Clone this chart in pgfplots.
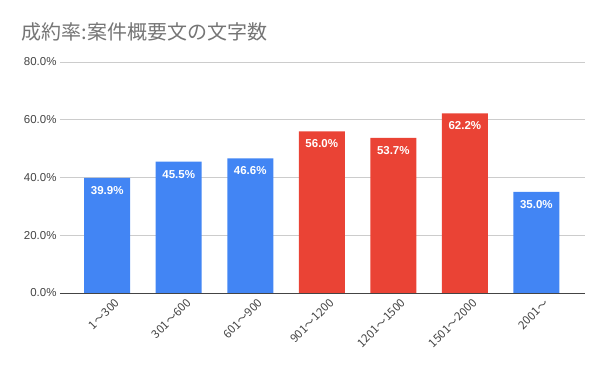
\documentclass[border=0pt]{standalone}
\usepackage{pgfplots}
\pgfplotsset{compat=1.18}
\usepackage{fontspec}
\setmainfont{Liberation Sans}
\newfontfamily\cjk{Noto Sans CJK JP}
\definecolor{gblue}{HTML}{4285F4}
\definecolor{gred}{HTML}{EA4335}
\definecolor{gridc}{HTML}{CCCCCC}
\definecolor{tickc}{HTML}{444444}
\definecolor{titlec}{HTML}{757575}
\begin{document}
\begin{tikzpicture}
\path[use as bounding box] (0,0) rectangle (600bp,-371bp);
\node[anchor=west, font=\cjk\fontsize{20bp}{22bp}\selectfont, text=titlec] at (18bp,-32bp) {成約率:案件概要文の文字数};
\begin{axis}[
  at={(60bp,-293bp)}, anchor=south west,
  scale only axis, width=525bp, height=231bp,
  ymin=0, ymax=80, ytick={0,20,40,60,80},
  xmin=-0.66, xmax=6.68,
  xtick={0,...,6},
  xticklabels={1〜300,301〜600,601〜900,901〜1200,1201〜1500,1501〜2000,2001〜},
  x tick label style={rotate=45, anchor=north east, font=\cjk\fontsize{11.5bp}{13bp}\selectfont, text=tickc, xshift=5bp, yshift=-5bp},
  y tick label style={font=\fontsize{11.5bp}{13bp}\selectfont, text=tickc},
  yticklabel={\pgfmathprintnumber[fixed,fixed zerofill,precision=1]{\tick}\%},
  /pgf/number format/assume math mode=true,
  major tick length=0pt,
  axis line style={draw=none},
  ymajorgrids, grid style={gridc, line width=0.6pt},
  ybar, bar width=46bp, bar shift=0pt,
  nodes near coords={\pgfmathprintnumber[fixed,fixed zerofill,precision=1]{\pgfplotspointmeta}\%},
  every node near coord/.append style={anchor=north, text=white, font=\bfseries\fontsize{11.5bp}{13bp}\selectfont, yshift=-5bp},
  clip=false,
]
\addplot[fill=gblue, draw=none] coordinates {(0,39.9) (1,45.5) (2,46.6) (6,35.0)};
\addplot[fill=gred, draw=none] coordinates {(3,56.0) (4,53.7) (5,62.2)};
\draw[color=tickc, line width=0.8pt] (rel axis cs:0,0) -- (rel axis cs:1,0);
\end{axis}
\end{tikzpicture}
\end{document}
